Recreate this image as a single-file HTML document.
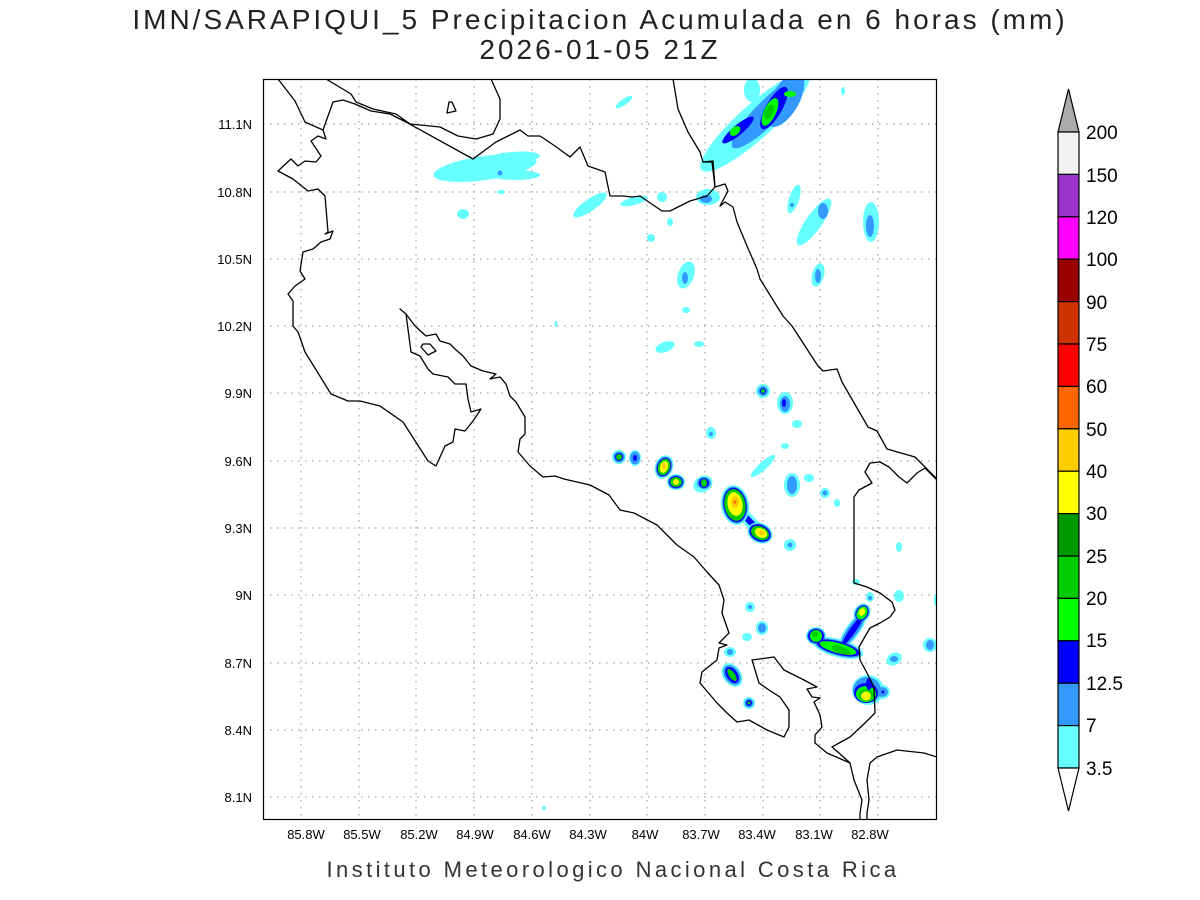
<!DOCTYPE html>
<html><head><meta charset="utf-8"><style>
html,body{margin:0;padding:0;background:#fff;}
svg{display:block;}
text{font-family:"Liberation Sans","DejaVu Sans",sans-serif;}
</style></head><body>
<svg width="1200" height="900" viewBox="0 0 1200 900" xmlns="http://www.w3.org/2000/svg">
<rect width="1200" height="900" fill="#fff"/>
<text x="600" y="29" font-size="28" text-anchor="middle" letter-spacing="3" fill="#222">IMN/SARAPIQUI_5 Precipitacion Acumulada en 6 horas (mm)</text>
<text x="600" y="59" font-size="28" text-anchor="middle" letter-spacing="3" fill="#222">2026-01-05 21Z</text>

<defs><clipPath id="c"><rect x="263" y="79" width="674" height="741"/></clipPath></defs>

<g clip-path="url(#c)">
<g stroke="#a0a0a0" stroke-width="1.2" stroke-dasharray="1.5,5.5">
<line x1="301" y1="79" x2="301" y2="820"/><line x1="359" y1="79" x2="359" y2="820"/><line x1="416" y1="79" x2="416" y2="820"/><line x1="474" y1="79" x2="474" y2="820"/><line x1="532" y1="79" x2="532" y2="820"/><line x1="590" y1="79" x2="590" y2="820"/><line x1="647" y1="79" x2="647" y2="820"/><line x1="705" y1="79" x2="705" y2="820"/><line x1="763" y1="79" x2="763" y2="820"/><line x1="820" y1="79" x2="820" y2="820"/><line x1="878" y1="79" x2="878" y2="820"/>
<line x1="263" y1="124" x2="937" y2="124"/><line x1="263" y1="192" x2="937" y2="192"/><line x1="263" y1="259" x2="937" y2="259"/><line x1="263" y1="326" x2="937" y2="326"/><line x1="263" y1="393" x2="937" y2="393"/><line x1="263" y1="461" x2="937" y2="461"/><line x1="263" y1="528" x2="937" y2="528"/><line x1="263" y1="595" x2="937" y2="595"/><line x1="263" y1="663" x2="937" y2="663"/><line x1="263" y1="730" x2="937" y2="730"/><line x1="263" y1="797" x2="937" y2="797"/>
</g>

<g>
<ellipse cx="755" cy="122" rx="72" ry="17" transform="rotate(-42 755 122)" fill="#66ffff"/>
<ellipse cx="785" cy="100" rx="30" ry="14" transform="rotate(-60 785 100)" fill="#3399ff"/>
<ellipse cx="740" cy="135" rx="30" ry="12" transform="rotate(-40 740 135)" fill="#66ffff"/>
<ellipse cx="768" cy="112" rx="50" ry="12" transform="rotate(-45 768 112)" fill="#3399ff"/>
<ellipse cx="738" cy="130" rx="20" ry="5" transform="rotate(-40 738 130)" fill="#0000ff"/>
<ellipse cx="735" cy="131" rx="6" ry="4" transform="rotate(-40 735 131)" fill="#00ff00"/>
<ellipse cx="774" cy="108" rx="24" ry="8" transform="rotate(-60 774 108)" fill="#0000ff"/>
<ellipse cx="770" cy="112" rx="15" ry="6" transform="rotate(-65 770 112)" fill="#00ff00"/>
<ellipse cx="769" cy="112" rx="8" ry="4" transform="rotate(-65 769 112)" fill="#00cc00"/>
<ellipse cx="790" cy="94" rx="6" ry="3" fill="#00ff00"/>
<ellipse cx="752" cy="90" rx="8" ry="12" fill="#66ffff"/>
<ellipse cx="485" cy="168" rx="52" ry="12" transform="rotate(-8 485 168)" fill="#66ffff"/>
<ellipse cx="512" cy="158" rx="28" ry="6" transform="rotate(-5 512 158)" fill="#66ffff"/>
<ellipse cx="515" cy="175" rx="25" ry="5" fill="#66ffff"/>
<circle cx="500" cy="173" r="2.5" fill="#3399ff"/>
<ellipse cx="624" cy="102" rx="10" ry="3" transform="rotate(-35 624 102)" fill="#66ffff"/>
<ellipse cx="463" cy="214" rx="6" ry="5" fill="#66ffff"/>
<ellipse cx="501" cy="192" rx="4" ry="2" fill="#66ffff"/>
<ellipse cx="590" cy="205" rx="20" ry="6" transform="rotate(-35 590 205)" fill="#66ffff"/>
<ellipse cx="634" cy="201" rx="14" ry="4" transform="rotate(-15 634 201)" fill="#66ffff"/>
<ellipse cx="662" cy="197" rx="5" ry="5" fill="#66ffff"/>
<ellipse cx="708" cy="197" rx="12" ry="8" fill="#66ffff"/>
<ellipse cx="706" cy="199" rx="6" ry="4" fill="#3399ff"/>
<ellipse cx="651" cy="238" rx="4" ry="4" fill="#66ffff"/>
<ellipse cx="670" cy="222" rx="3" ry="4" fill="#66ffff"/>
<ellipse cx="794" cy="199" rx="15" ry="5" transform="rotate(-72 794 199)" fill="#66ffff"/>
<circle cx="792" cy="205" r="2" fill="#3399ff"/>
<ellipse cx="814" cy="222" rx="28" ry="8" transform="rotate(-55 814 222)" fill="#66ffff"/>
<ellipse cx="823" cy="211" rx="5" ry="8" fill="#3399ff"/>
<ellipse cx="871" cy="222" rx="8" ry="20" fill="#66ffff"/>
<ellipse cx="870" cy="226" rx="4" ry="11" fill="#3399ff"/>
<ellipse cx="686" cy="275" rx="8" ry="14" transform="rotate(20 686 275)" fill="#66ffff"/>
<ellipse cx="685" cy="278" rx="3" ry="6" fill="#3399ff"/>
<ellipse cx="818" cy="275" rx="6" ry="12" transform="rotate(15 818 275)" fill="#66ffff"/>
<ellipse cx="818" cy="276" rx="3" ry="7" fill="#3399ff"/>
<ellipse cx="686" cy="310" rx="4" ry="3" fill="#66ffff"/>
<ellipse cx="665" cy="347" rx="10" ry="5" transform="rotate(-20 665 347)" fill="#66ffff"/>
<ellipse cx="699" cy="344" rx="5" ry="3" fill="#66ffff"/>
<ellipse cx="556" cy="324" rx="1.5" ry="3" fill="#66ffff"/>
<ellipse cx="843" cy="91" rx="2" ry="4" fill="#66ffff"/>
<circle cx="763" cy="391" r="7" fill="#66ffff"/><circle cx="763" cy="391" r="5" fill="#3399ff"/><circle cx="763" cy="391" r="3" fill="#0000ff"/><circle cx="763" cy="391" r="2" fill="#00cc00"/>
<ellipse cx="785" cy="403" rx="8" ry="11" fill="#66ffff"/><ellipse cx="785" cy="404" rx="5" ry="8" fill="#3399ff"/><ellipse cx="784" cy="403" rx="2" ry="4" fill="#0000ff"/>
<ellipse cx="797" cy="424" rx="5" ry="4" fill="#66ffff"/>
<ellipse cx="711" cy="433" rx="5" ry="6" fill="#66ffff"/><circle cx="711" cy="434" r="2" fill="#3399ff"/>
<ellipse cx="785" cy="446" rx="4" ry="3" fill="#66ffff"/>
<ellipse cx="763" cy="466" rx="16" ry="4" transform="rotate(-42 763 466)" fill="#66ffff"/>
<ellipse cx="792" cy="485" rx="8" ry="12" fill="#66ffff"/><ellipse cx="792" cy="485" rx="5" ry="9" fill="#3399ff"/>
<ellipse cx="809" cy="478" rx="5" ry="4" fill="#66ffff"/>
<circle cx="825" cy="493" r="5" fill="#66ffff"/><circle cx="825" cy="493" r="2.5" fill="#3399ff"/>
<ellipse cx="837" cy="503" rx="3" ry="4" fill="#66ffff"/>
<circle cx="619" cy="457" r="7" fill="#66ffff"/><circle cx="619" cy="457" r="5.5" fill="#3399ff"/><circle cx="619" cy="457" r="4" fill="#0000ff"/><circle cx="619" cy="457" r="3" fill="#00cc00"/>
<ellipse cx="635" cy="458" rx="6" ry="8" fill="#66ffff"/><ellipse cx="635" cy="458" rx="5" ry="6.5" fill="#3399ff"/><ellipse cx="635" cy="458" rx="2" ry="3" fill="#0000ff"/>
<ellipse cx="664" cy="467" rx="9" ry="12" transform="rotate(20 664 467)" fill="#66ffff"/><ellipse cx="664" cy="467" rx="8" ry="10.5" transform="rotate(20 664 467)" fill="#3399ff"/><ellipse cx="664" cy="467" rx="7" ry="9.5" transform="rotate(20 664 467)" fill="#0000ff"/><ellipse cx="664" cy="467" rx="6" ry="8.5" transform="rotate(20 664 467)" fill="#00cc00"/><ellipse cx="664" cy="467" rx="4" ry="6" transform="rotate(20 664 467)" fill="#ffff00"/><ellipse cx="664" cy="466" rx="2" ry="3" fill="#ffcc00"/>
<ellipse cx="676" cy="482" rx="9" ry="8" fill="#66ffff"/><ellipse cx="676" cy="482" rx="8" ry="7" fill="#3399ff"/><ellipse cx="676" cy="482" rx="7" ry="6" fill="#0000ff"/><ellipse cx="676" cy="482" rx="6" ry="5" fill="#00cc00"/><ellipse cx="676" cy="482" rx="3" ry="3" fill="#ffff00"/>
<ellipse cx="703" cy="484" rx="10" ry="8" transform="rotate(-30 703 484)" fill="#66ffff"/><ellipse cx="704" cy="483" rx="7" ry="6" fill="#3399ff"/><ellipse cx="704" cy="483" rx="5" ry="5" fill="#0000ff"/><ellipse cx="704" cy="483" rx="3" ry="4" fill="#00cc00"/>
<line x1="736" y1="507" x2="760" y2="532" stroke="#66ffff" stroke-width="12" stroke-linecap="round"/>
<line x1="736" y1="507" x2="760" y2="532" stroke="#0000ff" stroke-width="6" stroke-linecap="round"/>
<ellipse cx="735" cy="505" rx="14" ry="20" transform="rotate(-10 735 505)" fill="#66ffff"/><ellipse cx="735" cy="505" rx="12.5" ry="18.5" transform="rotate(-10 735 505)" fill="#3399ff"/><ellipse cx="735" cy="505" rx="11.5" ry="17.5" transform="rotate(-10 735 505)" fill="#0000ff"/><ellipse cx="735" cy="505" rx="10.5" ry="16" transform="rotate(-10 735 505)" fill="#00cc00"/><ellipse cx="735" cy="504" rx="7.5" ry="12" transform="rotate(-10 735 504)" fill="#ffff00"/><ellipse cx="735" cy="502" rx="4" ry="6" fill="#ffcc00"/><circle cx="735" cy="502" r="1.5" fill="#ff6600"/>
<ellipse cx="760" cy="533" rx="13" ry="10" transform="rotate(25 760 533)" fill="#66ffff"/><ellipse cx="760" cy="533" rx="12" ry="9" transform="rotate(25 760 533)" fill="#3399ff"/><ellipse cx="760" cy="533" rx="11" ry="8" transform="rotate(25 760 533)" fill="#0000ff"/><ellipse cx="760" cy="533" rx="9.5" ry="6.5" transform="rotate(25 760 533)" fill="#00cc00"/><ellipse cx="761" cy="533" rx="6.5" ry="4.5" transform="rotate(25 761 533)" fill="#ffff00"/><ellipse cx="762" cy="533" rx="3" ry="2.5" fill="#ffcc00"/>
<circle cx="790" cy="545" r="6" fill="#66ffff"/><circle cx="790" cy="545" r="2.5" fill="#3399ff"/>
<circle cx="750" cy="607" r="5" fill="#66ffff"/><circle cx="750" cy="607" r="2" fill="#3399ff"/>
<ellipse cx="762" cy="628" rx="6" ry="7" fill="#66ffff"/><ellipse cx="762" cy="628" rx="4" ry="5" fill="#3399ff"/>
<ellipse cx="747" cy="637" rx="5" ry="4" fill="#66ffff"/>
<ellipse cx="730" cy="652" rx="6" ry="5" fill="#66ffff"/><circle cx="730" cy="652" r="3" fill="#3399ff"/>
<ellipse cx="732" cy="675" rx="9" ry="13" transform="rotate(-35 732 675)" fill="#66ffff"/><ellipse cx="732" cy="675" rx="7.5" ry="11" transform="rotate(-35 732 675)" fill="#3399ff"/><ellipse cx="732" cy="675" rx="5.5" ry="9" transform="rotate(-35 732 675)" fill="#0000ff"/><ellipse cx="732" cy="675" rx="3" ry="7" transform="rotate(-35 732 675)" fill="#00cc00"/>
<circle cx="749" cy="703" r="6" fill="#66ffff"/><circle cx="749" cy="703" r="4.5" fill="#3399ff"/><circle cx="749" cy="703" r="3" fill="#0000ff"/><circle cx="749" cy="703" r="1.5" fill="#00cc00"/>
<g>
<ellipse cx="838" cy="648" rx="26" ry="9" transform="rotate(15 838 648)" fill="#66ffff"/>
<ellipse cx="853" cy="630" rx="22" ry="7" transform="rotate(-55 853 630)" fill="#66ffff"/>
<ellipse cx="816" cy="636" rx="10" ry="9" fill="#66ffff"/>
<ellipse cx="862" cy="613" rx="8" ry="10" transform="rotate(30 862 613)" fill="#66ffff"/>
<ellipse cx="838" cy="648" rx="24" ry="7.5" transform="rotate(15 838 648)" fill="#3399ff"/>
<ellipse cx="853" cy="630" rx="20" ry="5.5" transform="rotate(-55 853 630)" fill="#3399ff"/>
<ellipse cx="816" cy="636" rx="9" ry="8" fill="#3399ff"/>
<ellipse cx="862" cy="613" rx="7" ry="9" transform="rotate(30 862 613)" fill="#3399ff"/>
<ellipse cx="838" cy="648" rx="22" ry="6.5" transform="rotate(15 838 648)" fill="#0000ff"/>
<ellipse cx="853" cy="630" rx="19" ry="3" transform="rotate(-55 853 630)" fill="#0000ff"/>
<ellipse cx="816" cy="636" rx="8" ry="7" fill="#0000ff"/>
<ellipse cx="862" cy="613" rx="6" ry="8" transform="rotate(30 862 613)" fill="#0000ff"/>
<ellipse cx="838" cy="648" rx="19" ry="5" transform="rotate(15 838 648)" fill="#00ff00"/>
<ellipse cx="816" cy="636" rx="6" ry="6" fill="#00ff00"/>
<ellipse cx="862" cy="613" rx="5" ry="7" transform="rotate(30 862 613)" fill="#00ff00"/>
<ellipse cx="841" cy="650" rx="10" ry="3.5" transform="rotate(20 841 650)" fill="#00cc00"/>
<ellipse cx="815" cy="634" rx="3" ry="3" fill="#00cc00"/>
<ellipse cx="862" cy="612" rx="3" ry="4" transform="rotate(30 862 612)" fill="#ffff00"/>
</g>
<ellipse cx="870" cy="597" rx="4" ry="5" fill="#66ffff"/><circle cx="870" cy="598" r="2" fill="#3399ff"/>
<ellipse cx="899" cy="596" rx="5" ry="6" fill="#66ffff"/>
<ellipse cx="937" cy="600" rx="3" ry="7" fill="#66ffff"/>
<ellipse cx="930" cy="645" rx="7" ry="7" fill="#66ffff"/><ellipse cx="930" cy="645" rx="4" ry="5" fill="#3399ff"/>
<ellipse cx="894" cy="659" rx="8" ry="6" transform="rotate(-30 894 659)" fill="#66ffff"/><ellipse cx="894" cy="659" rx="4" ry="3" fill="#3399ff"/>
<ellipse cx="899" cy="547" rx="3" ry="5" fill="#66ffff"/>
<ellipse cx="856" cy="582" rx="4" ry="3" fill="#66ffff"/>
<ellipse cx="868" cy="690" rx="16" ry="15" fill="#66ffff"/>
<ellipse cx="882" cy="692" rx="8" ry="7" fill="#66ffff"/><ellipse cx="882" cy="692" rx="6" ry="5" fill="#3399ff"/><circle cx="883" cy="692" r="1.5" fill="#0000ff"/>
<ellipse cx="867" cy="690" rx="14" ry="13" fill="#3399ff"/>
<ellipse cx="866" cy="693" rx="12" ry="10" fill="#0000ff"/>
<ellipse cx="866" cy="694" rx="10" ry="8" fill="#00ff00"/>
<ellipse cx="866" cy="695" rx="7.5" ry="6" fill="#00cc00"/>
<ellipse cx="866" cy="696" rx="5" ry="4.5" fill="#ffff00"/>
<ellipse cx="869" cy="684" rx="3" ry="6" fill="#0000ff"/>
<circle cx="544" cy="808" r="2" fill="#66ffff"/>
</g>

<g fill="none" stroke="#000" stroke-width="1.3" stroke-linejoin="round">
<polyline points="326,79 351,94 356,102 373,109 396,114 410,124 440,127 458,136 476,139 493,134 500,119 500,99 491,79"/>
<polyline points="278,79 295,101 305,122 323,130 333,102 343,100 355,104 371,111 390,114 406,122 473,159 496,142 520,130 528,136 540,136 555,146 570,157 580,147 588,166 605,172 610,196 623,196 632,197 640,196 662,211 670,211 690,201 707,196 715,187 712,162 703,162"/>
<polyline points="323,130 326,139 318,136 311,141 321,156 316,162 305,161 298,166 291,159 278,171 293,179 308,191 318,189 325,196 328,232 325,234 333,231 330,239 321,242 313,249 303,252 300,271 305,279 295,286 288,294 293,301 293,326 298,332 305,352 331,394 348,401 360,401 380,406 403,422 428,461 436,466 445,446 453,442 455,429 465,431 473,421 481,409 471,412 468,399 466,384 455,384 448,377 433,374 428,369 420,356 411,352 406,314 400,309 406,314 415,326 426,336 436,334 440,341 450,344 455,349 463,356 471,366 483,371 496,374 490,379 500,377 506,384 510,396 516,402 525,417 525,434 520,439 518,452 530,466 543,477 555,476 564,479 590,485 609,495 620,510 634,513 657,525 677,545 694,557 707,572 719,585 724,600 722,613 729,633 719,643 727,645 719,648 717,660 702,672 700,683 717,703 727,713 737,722 749,720 767,730 784,737 789,727 789,710 780,697 769,690 759,683 752,660 774,657 784,670 804,680 817,687 807,689 812,697 820,698 814,702 820,715 822,727 815,735 815,743 827,753 850,763 854,780 862,800 860,813 860,822"/>
<polyline points="867,822 867,813 869,800 867,780 870,763 877,757 897,750 924,753 937,757"/>
<polyline points="850,763 839,753 832,747 850,737 865,723 875,713 874,687 867,673 860,660 859,647 870,628 880,623 890,617 895,610 892,602 880,593 867,587 854,583 854,497 859,490 872,483 865,472 870,463 880,462 889,467 899,477 907,483 917,473 925,468 937,480"/>
<polyline points="673,79 678,109 688,132 700,152 703,162 713,161 715,187 725,184 728,191 720,206 725,202 733,207 737,222 747,246 757,269 760,279 783,316 792,326 818,366 823,371 837,369 842,382 868,427 877,431 887,449 915,457 937,479"/>
<polygon points="449,102 452,102 456,111 447,113"/>
<polygon points="423,344 430,344 436,351 428,355 421,347"/>
</g>
</g>
<rect x="263.5" y="79.5" width="673" height="740" fill="none" stroke="#000" stroke-width="1.2"/>

<g font-size="13" fill="#000" text-anchor="end">
<text x="252" y="129">11.1N</text><text x="252" y="197">10.8N</text><text x="252" y="264">10.5N</text><text x="252" y="331">10.2N</text><text x="252" y="398">9.9N</text><text x="252" y="466">9.6N</text><text x="252" y="533">9.3N</text><text x="252" y="600">9N</text><text x="252" y="668">8.7N</text><text x="252" y="735">8.4N</text><text x="252" y="802">8.1N</text>
</g>
<g font-size="13" fill="#000" text-anchor="middle">
<text x="306" y="839">85.8W</text><text x="362" y="839">85.5W</text><text x="419" y="839">85.2W</text><text x="475" y="839">84.9W</text><text x="532" y="839">84.6W</text><text x="588" y="839">84.3W</text><text x="645" y="839">84W</text><text x="701" y="839">83.7W</text><text x="757" y="839">83.4W</text><text x="814" y="839">83.1W</text><text x="870" y="839">82.8W</text>
</g>
<text x="613" y="877" font-size="22" text-anchor="middle" letter-spacing="3.4" fill="#333">Instituto Meteorologico Nacional Costa Rica</text>

<g stroke="#000" stroke-width="1.2">
<polygon points="1058,132 1079,132 1068.5,89" fill="#aaaaaa"/>
<rect x="1058" y="132" width="21" height="42.4" fill="#f2f2f2"/>
<rect x="1058" y="174.4" width="21" height="42.4" fill="#9933cc"/>
<rect x="1058" y="216.8" width="21" height="42.4" fill="#ff00ff"/>
<rect x="1058" y="259.2" width="21" height="42.4" fill="#990000"/>
<rect x="1058" y="301.6" width="21" height="42.4" fill="#cc3300"/>
<rect x="1058" y="344" width="21" height="42.4" fill="#ff0000"/>
<rect x="1058" y="386.4" width="21" height="42.4" fill="#ff6600"/>
<rect x="1058" y="428.8" width="21" height="42.4" fill="#ffcc00"/>
<rect x="1058" y="471.2" width="21" height="42.4" fill="#ffff00"/>
<rect x="1058" y="513.6" width="21" height="42.4" fill="#009900"/>
<rect x="1058" y="556" width="21" height="42.4" fill="#00cc00"/>
<rect x="1058" y="598.4" width="21" height="42.4" fill="#00ff00"/>
<rect x="1058" y="640.8" width="21" height="42.4" fill="#0000ff"/>
<rect x="1058" y="683.2" width="21" height="42.4" fill="#3399ff"/>
<rect x="1058" y="725.6" width="21" height="42.4" fill="#66ffff"/>
<polygon points="1058,768 1079,768 1068.5,811" fill="#ffffff"/>
</g>
<g font-size="19" fill="#000">
<text x="1086" y="139">200</text><text x="1086" y="182">150</text><text x="1086" y="224">120</text><text x="1086" y="266">100</text><text x="1086" y="309">90</text><text x="1086" y="351">75</text><text x="1086" y="393">60</text><text x="1086" y="436">50</text><text x="1086" y="478">40</text><text x="1086" y="520">30</text><text x="1086" y="563">25</text><text x="1086" y="605">20</text><text x="1086" y="647">15</text><text x="1086" y="690">12.5</text><text x="1086" y="732">7</text><text x="1086" y="775">3.5</text>
</g>
</svg>
</body></html>
